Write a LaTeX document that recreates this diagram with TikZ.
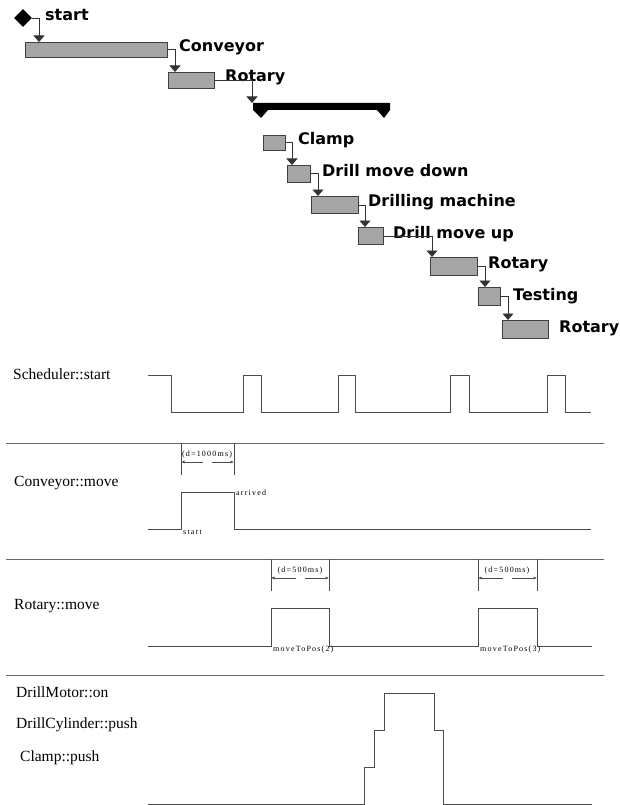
\documentclass[tikz,border=0pt]{standalone}
\usepackage{fontspec}
\setmainfont{Liberation Serif}
\newfontfamily\ganttfont{DejaVu Sans}
\newfontfamily\tinyfont[LetterSpace=15]{Liberation Serif}
\usetikzlibrary{arrows.meta,positioning,shapes.geometric}

\begin{document}
\begin{tikzpicture}[x=1pt,y=-1pt,
  task/.style={draw=black!75,fill=black!35,line width=0.9pt,inner sep=0pt,anchor=north west},
  tname/.style={font=\ganttfont\bfseries\fontsize{16}{18}\selectfont,inner sep=0pt,anchor=base west},
  flow/.style={draw=black!80,line width=0.9pt,-{Triangle[width=11pt,length=6.5pt]}},
  sig/.style={black!70,line width=0.9pt},
  sep/.style={black!60,line width=0.9pt},
  signame/.style={font=\fontsize{15.5}{17}\selectfont,inner sep=0pt,anchor=west},
  note/.style={font=\tinyfont\fontsize{8}{9}\selectfont,inner sep=0pt},
  dim/.style={black!70,line width=0.6pt,-{Latex[length=3.5pt,width=3pt]}}]

\useasboundingbox (0,0) rectangle (619,805);

% sequence of tasks
\node(start) at (23,18)[diamond,fill=black,minimum size=18pt,inner sep=0pt]{};
\node(lstart) at (45,21)[tname]{start};

\node(conv) at (25,42)[task,minimum width=142pt,minimum height=15pt]{};
\node(rot1) at (168,72)[task,minimum width=46pt,minimum height=16pt]{};
\node(clamp) at (263,135)[task,minimum width=22pt,minimum height=15pt]{};
\node(dmd) at (287,165)[task,minimum width=23pt,minimum height=17pt]{};
\node(drill) at (311,196)[task,minimum width=47pt,minimum height=17pt]{};
\node(dmu) at (358,227)[task,minimum width=25pt,minimum height=17pt]{};
\node(rot2) at (430,257)[task,minimum width=47pt,minimum height=18pt]{};
\node(test) at (478,287)[task,minimum width=22pt,minimum height=18pt]{};
\node(rot3) at (502,320)[task,minimum width=46pt,minimum height=18pt]{};

\node(lconv) at (179,52)[tname]{Conveyor};
\node(lrot1) at (225,82)[tname]{Rotary};
\node(lclamp) at (298,145)[tname]{Clamp};
\node(ldmd) at (322,176)[tname]{Drill move down};
\node(ldrill) at (368,207)[tname]{Drilling machine};
\node(ldmu) at (393,238)[tname]{Drill move up};
\node(lrot2) at (488,268)[tname]{Rotary};
\node(ltest) at (513,300)[tname]{Testing};
\node(lrot3) at (559,332)[tname]{Rotary};

% fork bar
\fill[black] (253,103) -- (390,103) -- (390,110) -- (384,118) -- (377,110)
  -- (268,110) -- (261,118) -- (253,110) -- cycle;
\coordinate(fork) at (252,103);

\draw[flow] (start.east) -| ([xshift=14pt]conv.north west);
\draw[flow] (conv.east) -| ([xshift=7pt]rot1.north west);
\draw[flow] (rot1.east) -| (fork);
\draw[flow] (clamp.east) -| ([xshift=5pt]dmd.north west);
\draw[flow] (dmd.east) -| ([xshift=7pt]drill.north west);
\draw[flow] (drill.east) -| ([xshift=7pt]dmu.north west);
\draw[flow] (dmu.east) -| ([xshift=2pt]rot2.north west);
\draw[flow] (rot2.east) -| ([xshift=7pt]test.north west);
\draw[flow] (test.east) -| ([xshift=6pt]rot3.north west);

% timing diagram
\node(sched) at (13,374)[signame]{Scheduler::start};
\draw[sig] (148,375) -- (171,375) -- (171,412) -- (243,412) -- (243,375) -- (261,375) -- (261,412)
  -- (338,412) -- (338,375) -- (355,375) -- (355,412) -- (450,412) -- (450,375) -- (469,375)
  -- (469,412) -- (547,412) -- (547,375) -- (565,375) -- (565,412) -- (591,412);

\draw[sep] (6,443) -- (604,443);
\draw[sep] (6,559) -- (604,559);
\draw[sep] (6,675) -- (604,675);

% conveyor
\node(cmove) at (14,483)[signame]{Conveyor::move};
\draw[sig] (148,529) -- (181,529) -- (181,492) -- (234,492) -- (234,529) -- (591,529);
\draw[sig,line width=0.6pt] (181,443) -- (181,475);
\draw[sig,line width=0.6pt] (234,443) -- (234,475);
\draw[dim] (203,462) -- (181,462);
\draw[dim] (212,462) -- (234,462);
\node(d1) at (207,455)[note]{(d=1000ms)};
\node(cstart) at (183,532)[note,anchor=west]{start};
\node(carr) at (236,493)[note,anchor=west]{arrived};

% rotary
\node(rmove) at (14,606)[signame]{Rotary::move};
\draw[sig] (148,646) -- (271,646) -- (271,608) -- (329,608) -- (329,646) -- (478,646)
  -- (478,608) -- (537,608) -- (537,646) -- (592,646);
\foreach \x in {271,329,478,537}
  \draw[sig,line width=0.6pt] (\x,559) -- (\x,591);
\draw[dim] (296,578) -- (271,578);
\draw[dim] (305,578) -- (329,578);
\draw[dim] (503,578) -- (478,578);
\draw[dim] (512,578) -- (537,578);
\node(d2) at (300,571)[note]{(d=500ms)};
\node(d3) at (507,571)[note]{(d=500ms)};
\node(pos2) at (273,650)[note,anchor=west]{moveToPos(2)};
\node(pos3) at (480,650)[note,anchor=west]{moveToPos(3)};

% drilling
\node(motor) at (16,692)[signame]{DrillMotor::on};
\node(cyl) at (16,725)[signame]{DrillCylinder::push};
\node(cpush) at (20,758)[signame]{Clamp::push};
\draw[sig] (148,804) -- (364,804) -- (364,767) -- (374,767) -- (374,730) -- (384,730) -- (384,693)
  -- (434,693) -- (434,730) -- (443,730) -- (443,804) -- (592,804);

\end{tikzpicture}
\end{document}
